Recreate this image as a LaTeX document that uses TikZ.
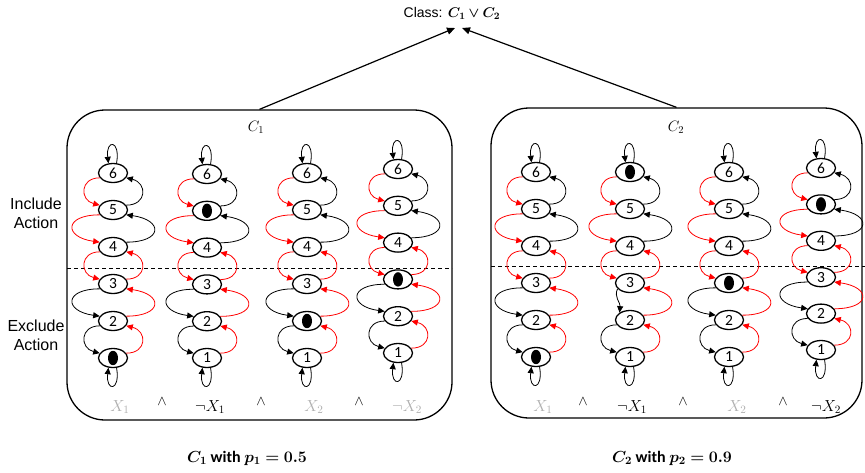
\documentclass[tikz,border=0pt]{standalone}
\usepackage{fix-cm}
\usepackage{amsmath}
\usepackage{bm}
\usepackage{fontspec}
\setmainfont{Carlito}
\newfontfamily\arialf{Liberation Sans}
\usetikzlibrary{arrows.meta,shapes.geometric}
\definecolor{litgray}{RGB}{175,175,175}
\tikzset{
  st/.style={ellipse, draw, fill=white, line width=1.3pt, minimum width=29pt, minimum height=19pt, inner sep=0pt, font=\fontsize{15.5}{15.5}\selectfont},
  tarc/.style={line width=0.8pt, -{Triangle[length=6.5pt,width=6pt]}},
  mainarrow/.style={line width=1.2pt, -{Triangle[length=8pt,width=7pt]}},
  clausebox/.style={draw, line width=1.3pt, rounded corners=38pt, inner sep=0pt},
  divider/.style={dashed, dash pattern=on 4pt off 3pt, line width=0.9pt},
  lit/.style={font=\fontsize{16}{16}\selectfont, inner sep=0pt},
  andsym/.style={font=\fontsize{14}{14}\selectfont, inner sep=0pt},
  sidelabel/.style={align=center, font=\arialf\fontsize{16}{19}\selectfont, inner sep=0pt},
  caption/.style={font=\fontsize{16}{16}\selectfont, inner sep=0pt},
  boxlabel/.style={font=\fontsize{15}{15}\selectfont, inner sep=0pt}
}
\newcommand\Larc[4]{\draw[tarc,#4] (#1.200) .. controls +(-#3,0) and +(-#3,-5) .. (#2.160);}
\newcommand\Rarc[4]{\draw[tarc,#4] (#1.20) .. controls +(#3,0) and +(#3,5) .. (#2.-20);}
\newcommand\TAcol[5]{%
  \foreach \s in {6,5,4,3,2,1}{%
    \pgfmathsetmacro\yy{#3+(6-\s)*#4}
    \node[st] (#1s\s) at (#2,\yy) {\ifnum\s=#5\else\s\fi};
    \ifnum\s=#5 \fill (#1s\s.center) ellipse [x radius=5pt, y radius=7.2pt];\fi
  }
  \Larc{#1s6}{#1s5}{20}{red}
  \Larc{#1s5}{#1s4}{36}{red}
  \Larc{#1s4}{#1s3}{20}{red}
  \Larc{#1s2}{#1s1}{20}{black}
  \Rarc{#1s1}{#1s2}{21}{red}
  \Rarc{#1s2}{#1s3}{37}{red}
  \Rarc{#1s3}{#1s4}{21}{red}
  \Rarc{#1s4}{#1s5}{37}{black}
  \Rarc{#1s5}{#1s6}{21}{black}
  \draw[tarc] (#1s6.70) .. controls +(4,-24) and +(-3,-24) .. (#1s6.115);
  \draw[tarc] (#1s1.-70) .. controls +(4,24) and +(-3,24) .. (#1s1.-115);
}
\begin{document}
\begin{tikzpicture}[x=1pt,y=-1pt]
\useasboundingbox (0,0) rectangle (865,472);
% title
\node[font=\arialf\fontsize{14}{14}\selectfont, inner sep=0pt] (title) at (452,13) {Class: $\bm{C_1\vee C_2}$};
\coordinate (tipA) at (455,28);
\coordinate (tipB) at (462,28);
% boxes
\node[clausebox, minimum width=385pt, minimum height=310pt] (box1) at (259.5,265) {};
\node[clausebox, minimum width=371pt, minimum height=310pt] (box2) at (676.5,263) {};
\draw[mainarrow] (box1.north) -- (tipA);
\draw[mainarrow] (box2.north) -- (tipB);
\node[boxlabel] (l1) at (256,127) {$C_1$};
\node[boxlabel] (l2) at (676,127) {$C_2$};
% dividers
\draw[divider] (67,268) -- (452,268);
\draw[divider] (491,266) -- (865,266);
% side labels
\node[sidelabel] (inc) at (36,213) {Include\\Action};
\node[sidelabel] (exc) at (36,335) {Exclude\\Action};
% automata
\TAcol{a}{113}{173}{37}{1}
\TAcol{b}{207}{174}{36.8}{5}
\TAcol{c}{307}{173}{37}{2}
\TAcol{d}{398}{169}{36.8}{3}
\TAcol{e}{536}{172}{37}{1}
\TAcol{f}{630}{172}{37}{6}
\TAcol{g}{729}{172}{37}{3}
\TAcol{h}{821}{168}{36.4}{5}
\Larc{as3}{as2}{36}{black}
\Larc{bs3}{bs2}{36}{black}
\Larc{cs3}{cs2}{36}{black}
\Larc{ds3}{ds2}{36}{black}
\Larc{es3}{es2}{36}{black}
\draw[tarc] (fs3.205) .. controls +(-4,8) and +(1,-10) .. (fs2.145);
\Larc{gs3}{gs2}{36}{black}
\Larc{hs3}{hs2}{36}{black}
% literals C1
\node[lit, text=litgray] (x1a) at (120,407) {$X_1$};
\node[andsym] (w1a) at (162,402) {$\wedge$};
\node[lit] (nx1a) at (210,407) {$\neg X_1$};
\node[andsym] (w2a) at (261,402) {$\wedge$};
\node[lit, text=litgray] (x2a) at (314,407) {$X_2$};
\node[andsym] (w3a) at (359,402) {$\wedge$};
\node[lit, text=litgray] (nx2a) at (407,407) {$\neg X_2$};
% literals C2
\node[lit, text=litgray] (x1b) at (543,407) {$X_1$};
\node[andsym] (w1b) at (583,402) {$\wedge$};
\node[lit] (nx1b) at (632,407) {$\neg X_1$};
\node[andsym] (w2b) at (683,402) {$\wedge$};
\node[lit, text=litgray] (x2b) at (737,407) {$X_2$};
\node[andsym] (w3b) at (783,402) {$\wedge$};
\node[lit] (nx2b) at (826,407) {$\neg X_2$};
% captions
\node[caption] (cap1) at (247,458) {$\bm{C_1}$ \textbf{with} $\bm{p_1=0.5}$};
\node[caption] (cap2) at (672,458) {$\bm{C_2}$ \textbf{with} $\bm{p_2=0.9}$};
\end{tikzpicture}
\end{document}
